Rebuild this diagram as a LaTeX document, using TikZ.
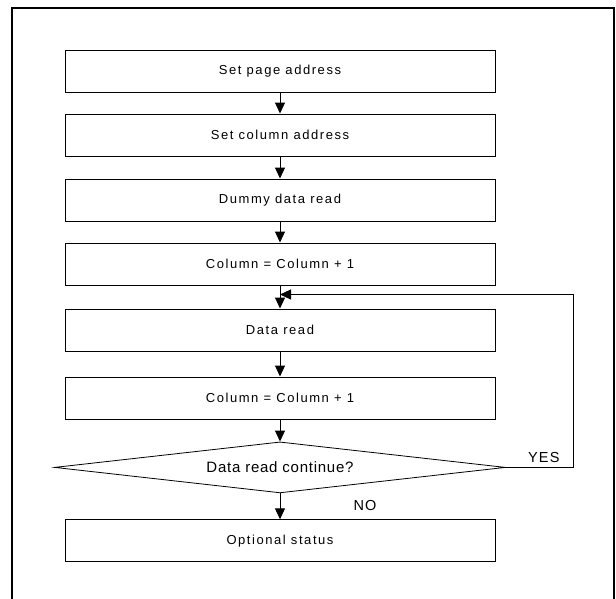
\documentclass[tikz,border=0pt]{standalone}
\usepackage{fontspec}
\setmainfont{Liberation Sans}
\usetikzlibrary{shapes.geometric, arrows.meta, positioning}

\begin{document}
\begin{tikzpicture}[
    node distance=23pt,
    block/.style={rectangle, draw, line width=1pt, minimum width=430pt, minimum height=42pt, inner sep=0pt, font=\fontsize{13}{15}\selectfont\addfontfeature{LetterSpace=12}},
    decision/.style={diamond, aspect=9, draw, line width=0.8pt, minimum width=451pt, minimum height=51pt, inner sep=0pt, font=\fontsize{15}{17}\selectfont\addfontfeature{LetterSpace=5}},
    tag/.style={inner sep=0pt, font=\fontsize{14.5}{17}\selectfont\addfontfeature{LetterSpace=8}},
    line/.style={draw, line width=1pt, -{Triangle[width=10pt,length=11pt]}}
]
\useasboundingbox (0,0) rectangle (616pt,-598pt);
\draw [line width=1.5pt] (12pt,-640pt) -- (12pt,-8pt) -- (614pt,-8pt) -- (614pt,-640pt);

\node [block] (page) at (280pt,-71pt) {Set page address};
\node [block, below=21pt of page] (column) {Set column address};
\node [block, below=22pt of column] (dummy) {Dummy data read};
\node [block, below=21pt of dummy] (incA) {Column = Column + 1};
\node [block, below=23pt of incA] (read) {Data read};
\node [block, below=25pt of read] (incB) {Column = Column + 1};
\node [decision, below=22pt of incB] (cont) {Data read continue?};
\node [block, below=26pt of cont] (status) {Optional status};

\path [line] (page) -- (column);
\path [line] (column) -- (dummy);
\path [line] (dummy) -- (incA);
\path [line] (incA) -- (read);
\path [line] (read) -- (incB);
\path [line] (incB) -- (cont);
\path [line] (cont) -- (status);

% loop back
\coordinate (back) at ([yshift=-9pt]incA.south);
\path [line] (cont.east) -- ++(68pt,0) |- (back);

\node [tag, anchor=south west] (yes) at ([xshift=22pt,yshift=5pt]cont.east) {YES};
\node [tag] (no) at ([xshift=85pt,yshift=-12pt]cont.south) {NO};
\end{tikzpicture}
\end{document}
